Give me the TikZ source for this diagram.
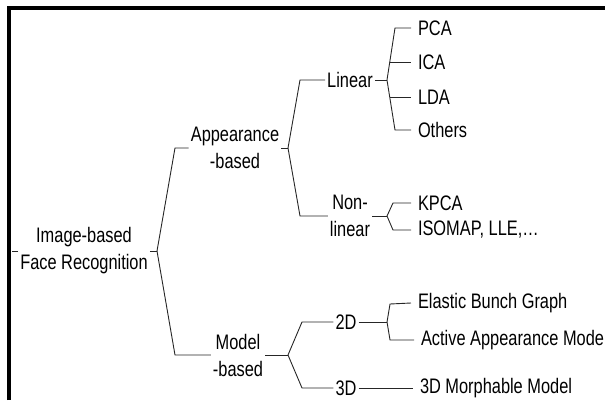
\documentclass[tikz,border=0pt]{standalone}
\usepackage{fontspec}
\setmainfont[FakeStretch=0.78]{Liberation Sans}
\usetikzlibrary{positioning,calc}
\definecolor{treeink}{HTML}{262626}
\tikzset{
  txt/.style={font=\fontsize{21}{27}\selectfont, inner sep=2pt, align=center, text=black},
  lf/.style={txt, anchor=west, inner xsep=1pt, outer xsep=6pt},
  br/.style={draw=treeink, line width=0.9pt},
  frm/.style={draw=black, line width=4pt},
}

\begin{document}
\begin{tikzpicture}[x=1pt, y=-1pt]
  \useasboundingbox (0,0) rectangle (605,400);
  \draw[frm] (9,400) -- (9,8) -- (605,8);
  % inner levels
  \node[txt] (root) at (84,251) {Image-based\\Face Recognition};
  \node[txt] (app) at (235,148) {Appearance\\-based};
  \node[txt] (mdl) at (238,355) {Model\\-based};
  \node[txt] (lin) at (350,80) {Linear};
  \node[txt] (nlin) at (350,216) {Non-\\linear};
  \node[txt] (d2) at (346,322) {2D};
  \node[txt] (d3) at (346,388) {3D};
  % leaves
  \node[lf] (pca) at (411,28) {PCA};
  \node[lf] (ica) at (411,62) {ICA};
  \node[lf] (lda) at (411,97) {LDA};
  \node[lf] (oth) at (411,130) {Others};
  \node[lf] (kpca) at (411,203) {KPCA};
  \node[lf] (iso) at (411,230) {ISOMAP, LLE,\ldots};
  \node[lf] (ela) at (411,303) {Elastic Bunch Graph};
  \node[lf] (act) at (414,340) {Active Appearance Mode};
  \node[lf] (mor) at (413,388) {3D Morphable Model};
  % fork points and corners
  \coordinate (f0) at (157,251);
  \coordinate (u0) at (175,148); \coordinate (v0) at (175,355);
  \coordinate (f1) at (288,148);
  \coordinate (u1) at (300,80);  \coordinate (v1) at (300,216);
  \coordinate (f2) at (387,80);
  \coordinate (u2) at (395,28);  \coordinate (v2) at (395,130);
  \coordinate (k1) at (390,62);  \coordinate (k2) at (390,97);
  \coordinate (f3) at (387,216);
  \coordinate (u3) at (393,203); \coordinate (v3) at (393,230);
  \coordinate (f4) at (288,355);
  \coordinate (u4) at (302,322); \coordinate (v4) at (302,388);
  \coordinate (f5) at (387,322);
  \coordinate (u5) at (390,304); \coordinate (v5) at (390,340);
  % connectors
  \draw[br] (root.west) -- ++(-6,0);
  \draw[br] (root.east) -- (f0);
  \draw[br] (app.west) -- (u0) -- (f0) -- (v0) -- (mdl.west);
  \draw[br] (app.east) -- (f1);
  \draw[br] (lin.west) -- (u1) -- (f1) -- (v1) -- (nlin.west);
  \draw[br] (lin.east) -- (f2);
  \draw[br] (pca.west) -- (u2) -- (f2) -- (v2) -- (oth.west);
  \draw[br] (k1) -- (ica.west);
  \draw[br] (k2) -- (lda.west);
  \draw[br] (nlin.east) -- (f3);
  \draw[br] (kpca.west) -- (u3) -- (f3) -- (v3) -- (iso.west);
  \draw[br] (mdl.east) -- (f4);
  \draw[br] (d2.west) -- (u4) -- (f4) -- (v4) -- (d3.west);
  \draw[br] (d2.east) -- (f5);
  \draw[br] (ela.west) -- (u5) -- (f5) -- (v5) -- (act.west);
  \draw[br] (d3.east) -- (mor.west);
\end{tikzpicture}
\end{document}
